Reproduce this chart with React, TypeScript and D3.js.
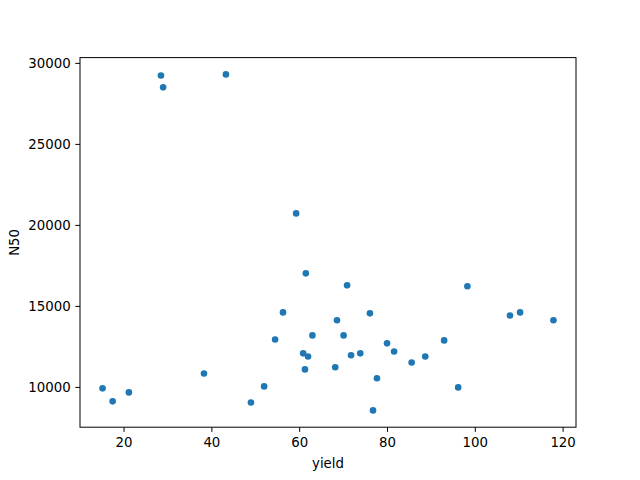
import React from "react";
import * as d3 from "d3";

const yieldValues = [
  28.4, 28.9, 43.2, 59.2, 61.4, 56.2, 54.4, 62.9, 60.8, 61.9, 61.2, 38.2,
  51.9, 48.9, 15.1, 17.4, 21.1, 70.8, 98.2, 76.0, 107.9, 110.2, 117.8, 68.5,
  70.0, 92.9, 79.9, 81.5, 71.7, 73.8, 88.6, 85.5, 68.1, 77.6, 96.1, 76.7,
];
const n50Values = [
  29250, 28520, 29320, 20740, 17040, 14630, 12960, 13210, 12100, 11910, 11110, 10860,
  10060, 9070, 9940, 9140, 9690, 16300, 16240, 14570, 14440, 14630, 14140, 14140,
  13210, 12900, 12720, 12220, 11980, 12100, 11910, 11540, 11240, 10560, 10000, 8580,
];
const xTicks = [20, 40, 60, 80, 100, 120];
const yTicks = [10000, 15000, 20000, 25000, 30000];

const W = 640, H = 480;
const L = 80, R = 576, T = 57.6, B = 427.2;
const FONT = "DejaVu Sans, sans-serif";

function pad([a, b]: [number, number]): [number, number] {
  const m = (b - a) * 0.05;
  return [a - m, b + m];
}

export default function App() {
  const x = d3.scaleLinear().domain(pad(d3.extent(yieldValues) as [number, number])).range([L, R]);
  const y = d3.scaleLinear().domain(pad(d3.extent(n50Values) as [number, number])).range([B, T]);
  const tl = 4.67;
  return (
    <svg width={W} height={H} style={{ display: "block", position: "absolute", left: 0, top: 0 }} fontFamily={FONT}>
      <rect width={W} height={H} fill="white" />
      {yieldValues.map((v, i) => (
        <circle key={i} cx={x(v)} cy={y(n50Values[i])} r={3.3} fill="#1f77b4" />
      ))}
      <rect x={L} y={T} width={R - L} height={B - T} fill="none" stroke="black" strokeWidth={1} />
      {xTicks.map((t) => (
        <g key={t}>
          <line x1={x(t)} x2={x(t)} y1={B} y2={B + tl} stroke="black" strokeWidth={1} />
          <text x={x(t)} y={B + tl + 4.67} dy="0.76em" textAnchor="middle" fontSize={13.33}>{t}</text>
        </g>
      ))}
      {yTicks.map((t) => (
        <g key={t}>
          <line x1={L} x2={L - tl} y1={y(t)} y2={y(t)} stroke="black" strokeWidth={1} />
          <text x={L - tl - 4.67} y={y(t)} dy="0.35em" textAnchor="end" fontSize={13.33}>{t}</text>
        </g>
      ))}
      <text x={(L + R) / 2} y={458} dy="0.76em" textAnchor="middle" fontSize={13.33}>yield</text>
      <text transform={`translate(${19},${(T + B) / 2}) rotate(-90)`} textAnchor="middle" fontSize={13.33}>N50</text>
    </svg>
  );
}
